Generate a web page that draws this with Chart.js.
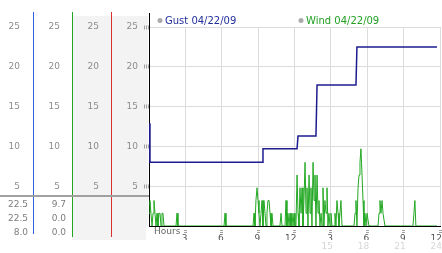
<!DOCTYPE html>
<html>
<head>
<meta charset="utf-8">
<title>Gust / Wind 04/22/09</title>
<script src="https://cdn.jsdelivr.net/npm/chart.js@4.4.0/dist/chart.umd.min.js"></script>
<style>
  html, body { margin: 0; padding: 0; background: #fff; }
  #wrap { position: relative; width: 442px; height: 253px; }
</style>
</head>
<body>
<div id="wrap"><canvas id="windChart"></canvas></div>
<script>
// --- data (hours since midnight, speed) ---
const gustLabel = 'Gust 04/22/09';
const windLabel = 'Wind 04/22/09';

const gustHours  = [0.00, 0.08, 9.32, 9.40, 12.21, 12.29, 13.77, 13.86, 17.07, 17.15, 23.75];
const gustSpeeds = [12.9, 8.0, 8.0, 9.7, 9.7, 11.3, 11.3, 17.7, 17.7, 22.5, 22.5];

const windHours = [
  0.00, 0.08, 0.16, 0.25, 0.33, 0.41, 0.49, 0.58, 0.66, 0.74, 0.82, 0.91, 0.99, 1.07, 1.15, 1.24, 2.23, 2.31, 2.39,
  6.19, 6.27, 6.35,
  8.58, 8.66, 8.74, 8.82, 8.91, 8.99, 9.07, 9.15, 9.24, 9.32, 9.40, 9.48, 9.57, 9.65, 9.73, 9.81, 9.90, 9.98, 10.06, 10.14, 10.23,
  10.80, 10.89, 10.97, 11.22, 11.30, 11.38, 11.46, 11.55, 11.63, 11.71, 11.79, 11.88, 11.96, 12.04, 12.12,
  12.21, 12.29, 12.37, 12.45, 12.54, 12.62, 12.70, 12.78, 12.87, 12.95, 13.03, 13.11, 13.20, 13.28, 13.36, 13.44, 13.53, 13.61,
  13.69, 13.77, 13.86, 13.94, 14.02, 14.10, 14.19, 14.27, 14.35, 14.43, 14.51, 14.60, 14.68, 14.76, 14.84, 14.93, 15.01, 15.09,
  15.26, 15.34, 15.42, 15.50, 15.59, 15.67, 15.75, 15.83, 15.92,
  16.91, 16.99, 17.07, 17.15, 17.24, 17.32, 17.40, 17.48, 17.57, 17.65, 17.73, 17.81, 17.90, 17.98, 18.06, 18.14,
  18.89, 18.97, 19.05, 19.13, 19.22, 19.30, 19.38, 19.46,
  21.77, 21.85, 21.93, 22.01, 23.75
];
const windSpeeds = [
  1.6, 3.2, 1.6, 0, 1.6, 3.2, 1.6, 0, 1.6, 0, 1.6, 1.6, 0, 1.6, 1.6, 0, 0, 1.6, 0,
  0, 1.6, 0,
  0, 1.6, 0, 3.2, 4.8, 3.2, 1.6, 0, 1.6, 3.2, 0, 3.2, 1.6, 0, 1.6, 3.2, 3.2, 1.6, 0, 1.6, 0,
  0, 1.6, 0, 0, 3.2, 0, 1.6, 0, 1.6, 0, 1.6, 0, 1.6, 0, 0,
  6.4, 1.6, 0, 4.8, 1.6, 4.8, 0, 3.2, 8.0, 1.6, 4.8, 0, 6.4, 1.6, 4.8, 0, 8.0, 3.2,
  6.4, 0, 6.4, 1.6, 3.2, 0, 1.6, 0, 4.8, 0, 3.2, 1.6, 4.8, 0, 1.6, 0, 1.6, 0,
  0, 1.6, 0, 3.2, 1.6, 0, 1.6, 3.2, 0,
  0, 1.6, 3.2, 0, 4.8, 6.4, 8.0, 9.7, 6.4, 3.2, 0, 1.6, 0, 1.6, 1.6, 0,
  0, 1.6, 3.2, 1.6, 3.2, 1.6, 1.6, 0,
  0, 1.6, 3.2, 0, 0
];

// summary table under the left axes: gust column, wind column
const gustStats = ['22.5', '22.5', '8.0'];
const windStats = ['9.7', '0.0', '0.0'];

const speedTicks = [5, 10, 15, 20, 25];
const hourTicks = [0, 3, 6, 9, 12, 15, 18, 21, 24];
const hourLabels = ['', '3', '6', '9', '12', '3', '6', '9', '12'];
const laterHourLabels = ['', '', '', '', '', '15', '18', '21', '24'];

const tickFont = { family: 'DejaVu Sans', size: 9 };
const blue = '#2f5ee0';
const green = '#22a622';
const red = '#d83030';

function toPoints(xs, ys) {
  return xs.map((x, i) => ({ x: x, y: ys[i] }));
}

// extra y axes drawn as columns left of the plot
function sideAxis(borderColor, width, weight, padding) {
  return {
    position: 'left',
    min: 0,
    max: 25,
    weight: weight,
    afterBuildTicks: s => { s.ticks = speedTicks.map(v => ({ value: v })); },
    afterFit: s => { s.width = width; },
    ticks: { font: tickFont, color: '#8c8c8c', padding: padding },
    grid: { drawOnChartArea: false, drawTicks: false },
    border: { color: borderColor, width: 1 }
  };
}

const panelPlugin = {
  id: 'panel',
  beforeDraw(chart) {
    const { ctx, scales, chartArea } = chart;
    ctx.save();
    ctx.fillStyle = '#f3f3f3';
    const left = Math.round(scales.yGreen.right);
    ctx.fillRect(left, 16, scales.y.right - 1 - left, chartArea.bottom - 16);
    ctx.fillRect(left, chartArea.bottom, scales.y.right - 3 - left, 240 - chartArea.bottom);
    ctx.restore();
  },
  afterDraw(chart) {
    const { ctx, scales, chartArea } = chart;
    const edge = px => Math.round(px - 0.5) + 0.5;
    ctx.save();

    // axis lines run a little past the plot
    [['yBlue', blue, 12, 234], ['yGreen', green, 12, 237],
     ['yRed', red, 12, 237], ['y', '#000', 13, chartArea.bottom]].forEach(([id, color, top, bottom]) => {
      const x = edge(scales[id].right);
      ctx.strokeStyle = color;
      ctx.lineWidth = 1;
      ctx.beginPath();
      ctx.moveTo(x, top);
      ctx.lineTo(x, chartArea.top);
      ctx.moveTo(x, chartArea.bottom);
      ctx.lineTo(x, bottom);
      ctx.stroke();
    });

    // separator above the summary table
    ctx.fillStyle = '#a0a0a0';
    ctx.fillRect(0, 195, scales.y.right, 2);

    ctx.font = '9px "DejaVu Sans"';
    ctx.fillStyle = '#7c7c7c';
    ctx.textAlign = 'right';
    ctx.textBaseline = 'middle';
    [204.5, 218.5, 232.5].forEach((y, i) => {
      ctx.fillText(gustStats[i], scales.yBlue.right - 5, y);
      ctx.fillText(windStats[i], scales.yGreen.right - 6, y);
    });

    ctx.textAlign = 'left';
    ctx.fillStyle = '#666';
    ctx.fillText('Hours', chartArea.left + 5, 232);

    // legend
    const items = [[gustLabel, '#22309c', chartArea.left + 11], [windLabel, '#22a022', chartArea.left + 152]];
    ctx.font = '10px "DejaVu Sans"';
    ctx.textBaseline = 'alphabetic';
    items.forEach(([text, color, x]) => {
      ctx.fillStyle = '#aaaaaa';
      ctx.beginPath();
      ctx.arc(x, 20.5, 2.5, 0, Math.PI * 2);
      ctx.fill();
      ctx.fillStyle = color;
      ctx.fillText(text, x + 5, 24);
    });
    ctx.restore();
  }
};

new Chart(document.getElementById('windChart'), {
  type: 'line',
  data: {
    datasets: [
      {
        label: gustLabel,
        data: toPoints(gustHours, gustSpeeds),
        borderColor: '#1c1c8e',
        borderWidth: 1.5,
        pointRadius: 0,
        tension: 0,
        xAxisID: 'x',
        yAxisID: 'y'
      },
      {
        label: windLabel,
        data: toPoints(windHours, windSpeeds),
        borderColor: '#23a823',
        borderWidth: 1,
        pointRadius: 0,
        tension: 0,
        xAxisID: 'x',
        yAxisID: 'y'
      }
    ]
  },
  options: {
    responsive: true,
    maintainAspectRatio: false,
    animation: false,
    layout: { padding: { top: 27, right: 2, bottom: 0, left: 0 } },
    plugins: { legend: { display: false }, tooltip: { enabled: false } },
    scales: {
      x: {
        type: 'linear',
        position: 'bottom',
        min: 0,
        max: 24,
        weight: 0,
        afterBuildTicks: s => { s.ticks = hourTicks.map(v => ({ value: v })); },
        afterFit: s => { s.height = 14; },
        ticks: {
          font: tickFont, color: '#555', padding: 0, align: 'end', labelOffset: 2,
          maxRotation: 0, autoSkip: false,
          callback: (v, i) => hourLabels[i]
        },
        grid: {
          color: '#dcdcdc',
          tickLength: 7,
          tickWidth: 3,
          tickColor: c => (c.tick && c.tick.value === 0) ? 'rgba(0,0,0,0)' : '#a0a0a0',
          tickBorderDash: [0, 3, 1, 1, 1, 1]
        },
        border: { color: '#000', width: 1 }
      },
      x2: {
        type: 'linear',
        position: 'bottom',
        min: 0,
        max: 24,
        weight: 1,
        afterBuildTicks: s => { s.ticks = hourTicks.map(v => ({ value: v })); },
        afterFit: s => { s.height = 13; },
        ticks: {
          font: tickFont, color: '#d6d6d6', padding: 1, align: 'end', labelOffset: 2,
          maxRotation: 0, autoSkip: false,
          callback: (v, i) => laterHourLabels[i]
        },
        grid: { display: false, drawTicks: false },
        border: { display: false }
      },
      y: {
        position: 'left',
        min: 0,
        max: 25,
        weight: 0,
        afterBuildTicks: s => { s.ticks = speedTicks.map(v => ({ value: v })); },
        afterFit: s => { s.width = 38; },
        ticks: { font: tickFont, color: '#8c8c8c', padding: 6 },
        grid: { color: '#dcdcdc', tickLength: 5, tickWidth: 4, tickColor: '#a0a0a0', tickBorderDash: [1, 1] },
        border: { color: '#000', width: 1 }
      },
      yRed: sideAxis(red, 39, 1, 12),
      yGreen: sideAxis(green, 39, 2, 12),
      yBlue: sideAxis(blue, 33, 3, 13)
    }
  },
  plugins: [panelPlugin]
});
</script>
</body>
</html>
